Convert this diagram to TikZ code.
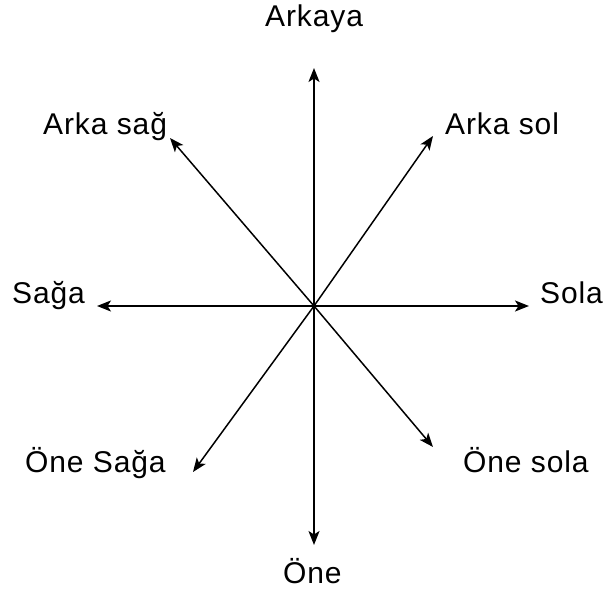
\documentclass[tikz,border=0pt]{standalone}
\usepackage{fontspec}
\setmainfont{Liberation Sans}[LetterSpace=3]
\usetikzlibrary{arrows.meta}
\begin{document}
\begin{tikzpicture}[x=1pt,y=-1pt,
  dirarrow/.style={line width=1.5pt,-{Stealth[length=14pt,width=11pt,inset=3.5pt]}},
  lbl/.style={inner sep=0pt,font=\fontsize{30}{35}\selectfont}]
\useasboundingbox (0,0) rectangle (606,591);
\coordinate (c) at (314,306);
\coordinate (tU) at (314,68);
\coordinate (tD) at (314,545);
\coordinate (tL) at (97,306);
\coordinate (tR) at (529,306);
\coordinate (tUL) at (170,138);
\coordinate (tUR) at (433,136);
\coordinate (tDL) at (193,472);
\coordinate (tDR) at (433,447);
\draw[dirarrow] (c) -- (tU);
\draw[dirarrow] (c) -- (tD);
\draw[dirarrow] (c) -- (tL);
\draw[dirarrow] (c) -- (tR);
\draw[dirarrow] (c) -- (tUL);
\draw[dirarrow] (c) -- (tUR);
\draw[dirarrow] (c) -- (tDL);
\draw[dirarrow] (c) -- (tDR);
\node[lbl,anchor=base west] (nU) at (265,27) {Arkaya};
\node[lbl,anchor=base west] (nUL) at (43,135) {Arka sağ};
\node[lbl,anchor=base west] (nUR) at (445,135) {Arka sol};
\node[lbl,anchor=base west] (nL) at (12,303) {Sağa};
\node[lbl,anchor=base west] (nR) at (540,303) {Sola};
\node[lbl,anchor=base west] (nDL) at (25,472) {Öne Sağa};
\node[lbl,anchor=base west] (nDR) at (463,472) {Öne sola};
\node[lbl,anchor=base west] (nD) at (283,583) {Öne};
\end{tikzpicture}
\end{document}
